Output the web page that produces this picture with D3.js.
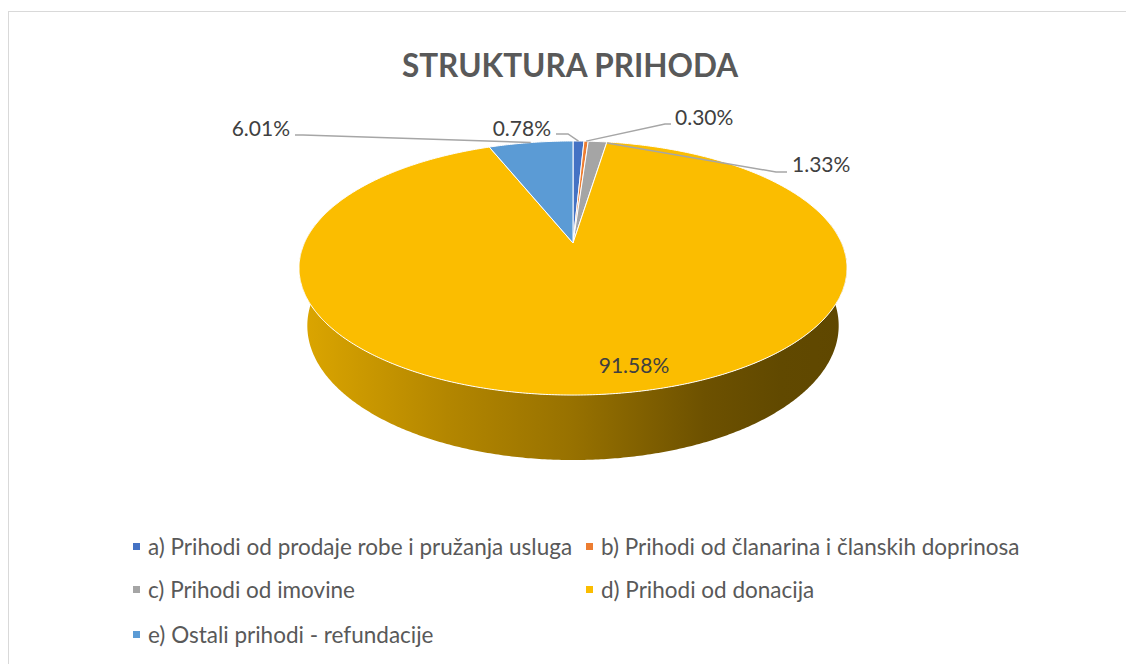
<!DOCTYPE html>
<html>
<head>
<meta charset="utf-8">
<script src="https://cdn.jsdelivr.net/npm/d3@7"></script>
<style>
  html, body { margin: 0; padding: 0; background: #fff; }
  svg { display: block; font-family: Lato, "Open Sans", sans-serif; }
</style>
</head>
<body>
<svg id="chart" width="1126" height="664"></svg>
<script>
// ---- data ----
const categories = [
  "a) Prihodi od prodaje robe i pružanja usluga",
  "b) Prihodi od članarina i članskih doprinosa",
  "c) Prihodi od imovine",
  "d) Prihodi od donacija",
  "e) Ostali prihodi - refundacije"
];
const values = [0.78, 0.30, 1.33, 91.58, 6.01];
const valueLabels = ["0.78%", "0.30%", "1.33%", "91.58%", "6.01%"];
const colors = ["#4472C4", "#ED7D31", "#A5A5A5", "#FBBD00", "#5B9BD5"];
const title = "STRUKTURA PRIHODA";

// ---- layout ----
const svg = d3.select("#chart");

// chart-area border (left and top visible)
svg.append("rect").attr("x", 8.5).attr("y", 11.5).attr("width", 1300).attr("height", 1000)
  .attr("fill", "none").attr("stroke", "#D9D9D9").attr("stroke-width", 1);

svg.append("text").attr("x", 570).attr("y", 77).attr("text-anchor", "middle")
  .attr("font-size", 31.5).attr("font-weight", 700).attr("fill", "#595959").text(title);

// perspective projection of a tilted disc (top z=0, bottom z=1)
const P = { cx: 573, cy: 243, A: 268.6, B: 122.1, k: -0.197, m: 0.03, C: 58.7 };
function proj(theta, r, z) {
  const u = r * Math.sin(theta), v = -r * Math.cos(theta);
  const w = 1 + P.k * v + P.m * z;
  return [P.cx + P.A * u / w, P.cy + (P.B * v + P.C * z) / w];
}

const pie = d3.pie().sort(null).value(d => d)(values);
const step = Math.PI / 360;

// side wall gradient
const defs = svg.append("defs");
const grad = defs.append("linearGradient").attr("id", "side")
  .attr("gradientUnits", "userSpaceOnUse").attr("x1", 300).attr("x2", 847).attr("y1", 0).attr("y2", 0);
[[0, "#DCA600"], [0.27, "#B38600"], [0.5, "#977100"], [0.74, "#6D5100"], [0.88, "#614900"], [1, "#5F4700"]]
  .forEach(s => grad.append("stop").attr("offset", s[0]).attr("stop-color", s[1]));

const sideGroup = svg.append("g");
pie.forEach((p, i) => {
  const a0 = Math.max(p.startAngle, Math.PI * 0.45);
  const a1 = Math.min(p.endAngle, Math.PI * 1.55);
  if (a1 <= a0) return;
  const top = [], bot = [];
  for (let a = a0; a <= a1 + 1e-9; a += step) { top.push(proj(a, 1, 0)); bot.push(proj(a, 1, 1)); }
  top.push(proj(a1, 1, 0)); bot.push(proj(a1, 1, 1));
  const pts = top.concat(bot.reverse());
  sideGroup.append("path").attr("d", d3.line()(pts) + "Z")
    .attr("fill", i === 3 ? "url(#side)" : d3.color(colors[i]).darker(1.2));
});

// top faces
const topGroup = svg.append("g");
pie.forEach((p, i) => {
  const pts = [proj(0, 0, 0)];
  for (let a = p.startAngle; a < p.endAngle; a += step) pts.push(proj(a, 1, 0));
  pts.push(proj(p.endAngle, 1, 0));
  topGroup.append("path").attr("d", d3.line()(pts) + "Z")
    .attr("fill", colors[i]).attr("stroke", "#fff").attr("stroke-width", 1).attr("stroke-linejoin", "round");
});

// data labels with leader lines
const labelLayout = [
  { tx: 551, ty: 136, anchor: "end",   knee: [[568, 134], [556, 134]] },
  { tx: 675, ty: 125, anchor: "start", knee: [[665, 124], [671, 124]] },
  { tx: 792, ty: 172, anchor: "start", knee: [[776, 172], [787, 172]], start: [607, 143] },
  { tx: 634, ty: 373, anchor: "middle", inside: true },
  { tx: 290, ty: 136, anchor: "end",   knee: [[303, 135], [295, 135]] }
];
pie.forEach((p, i) => {
  const L = labelLayout[i];
  if (!L.inside) {
    const mid = (p.startAngle + p.endAngle) / 2;
    const s = L.start || proj(mid, 1, 0);
    svg.append("path").attr("d", d3.line()([s].concat(L.knee)))
      .attr("fill", "none").attr("stroke", "#A6A6A6").attr("stroke-width", 1.5);
  }
  svg.append("text").attr("x", L.tx).attr("y", L.ty).attr("text-anchor", L.anchor)
    .attr("font-size", 21).attr("fill", "#404040").text(valueLabels[i]);
});

// legend
const legCols = [133, 586], legRows = [555, 598, 643];
categories.forEach((c, i) => {
  const x = legCols[i % 2], y = legRows[Math.floor(i / 2)];
  svg.append("rect").attr("x", x).attr("y", y - 12).attr("width", 7).attr("height", 7).attr("fill", colors[i]);
  svg.append("text").attr("x", x + 15).attr("y", y).attr("font-size", 22.5).attr("fill", "#595959").text(c);
});
</script>
</body>
</html>
